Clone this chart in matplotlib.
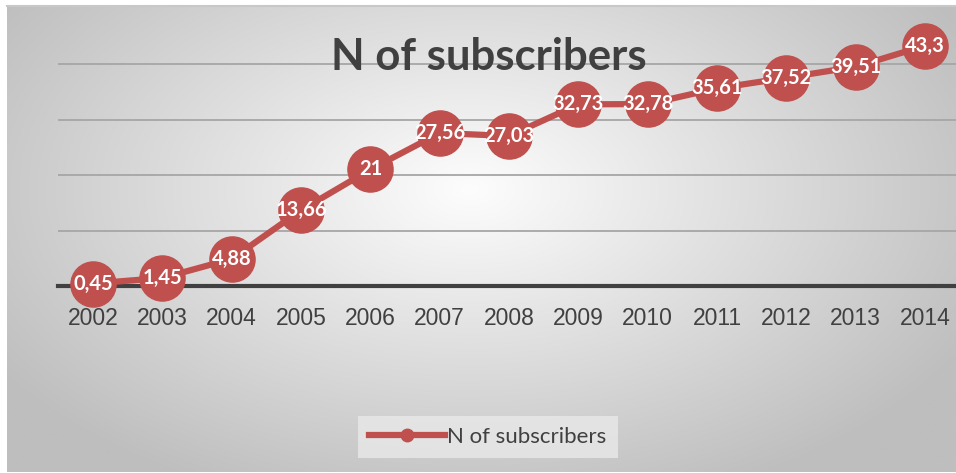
import numpy as np
import matplotlib
matplotlib.use("Agg")
from matplotlib import pyplot as plt
from matplotlib.lines import Line2D

years = ["2002", "2003", "2004", "2005", "2006", "2007", "2008",
         "2009", "2010", "2011", "2012", "2013", "2014"]
subscribers = [0.45, 1.45, 4.88, 13.66, 21, 27.56, 27.03,
               32.73, 32.78, 35.61, 37.52, 39.51, 43.3]
labels = ["0,45", "1,45", "4,88", "13,66", "21", "27,56", "27,03",
          "32,73", "32,78", "35,61", "37,52", "39,51", "43,3"]
series_name = "N of subscribers"

W, H = 956, 473
red = "#c0504d"
dark = "#404040"

fig = plt.figure(figsize=(W / 100, H / 100), dpi=100)

# background: radial gradient, white in the middle, grey to the edges
bg = fig.add_axes([0, 0, 1, 1])
bg.set_xlim(0, W)
bg.set_ylim(H, 0)
bg.axis("off")
xx, yy = np.meshgrid(np.linspace(7, W, 400), np.linspace(6, 472, 200))
d = np.sqrt(((xx - 470) / 560) ** 2 + ((yy - 190) / 330) ** 2)
shade = np.clip(253 - 62 * d, 190, 253) / 255.0
bg.imshow(np.dstack([shade, shade, shade]), extent=(7, W, 472, 6),
          aspect="auto", interpolation="bilinear")
bg.plot([7, W], [6, 6], color="#c8c8c8", lw=1.5)

# plot area
x0, x1 = 58.4, 959.7
ybase, ytop = 286, 8.5
ax = fig.add_axes([x0 / W, (H - ybase) / H, (x1 - x0) / W, (ybase - ytop) / H])
ax.set_facecolor("none")
ax.set_xlim(-0.5, len(years) - 0.5)
ax.set_ylim(0, 50)
for s in ax.spines.values():
    s.set_visible(False)

ax.set_yticks([10, 20, 30, 40])
ax.yaxis.grid(True, color="#a6a6a6", lw=1.3)
ax.tick_params(axis="y", left=False, labelleft=False)
ax.axhline(0, color=dark, lw=3.0, zorder=2, clip_on=False)

xs = np.arange(len(years))
ax.set_xticks(xs)
ax.set_xticklabels(years, fontsize=16.5, color=dark, family="Liberation Sans")
ax.tick_params(axis="x", length=0, pad=15)

ax.plot(xs, subscribers, color=red, lw=4.5, marker="o", markersize=32.5,
        zorder=3, clip_on=False)
for x, y, t in zip(xs, subscribers, labels):
    ax.text(x, y, t, ha="center", va="center", color="white",
            fontsize=14.5, fontweight="bold", family="Lato", zorder=4)

fig.text(489 / W, 1 - 57 / H, series_name, ha="center", va="center",
         fontsize=31.5, fontweight="bold", color=dark, family="Lato")

handle = Line2D([], [], color=red, lw=4.5, marker="o", markersize=9)
leg = fig.legend([handle], [series_name], loc="center",
                 bbox_to_anchor=(488 / W, 1 - 437 / H), frameon=True,
                 prop={"family": "Lato", "size": 16}, handlelength=3.4,
                 handletextpad=0.1, borderpad=0.5, borderaxespad=0,
                 fancybox=False)
leg.get_frame().set_facecolor("#e9e9e9")
leg.get_frame().set_edgecolor("none")
for t in leg.get_texts():
    t.set_color(dark)

fig.savefig("out.png", dpi=100)
